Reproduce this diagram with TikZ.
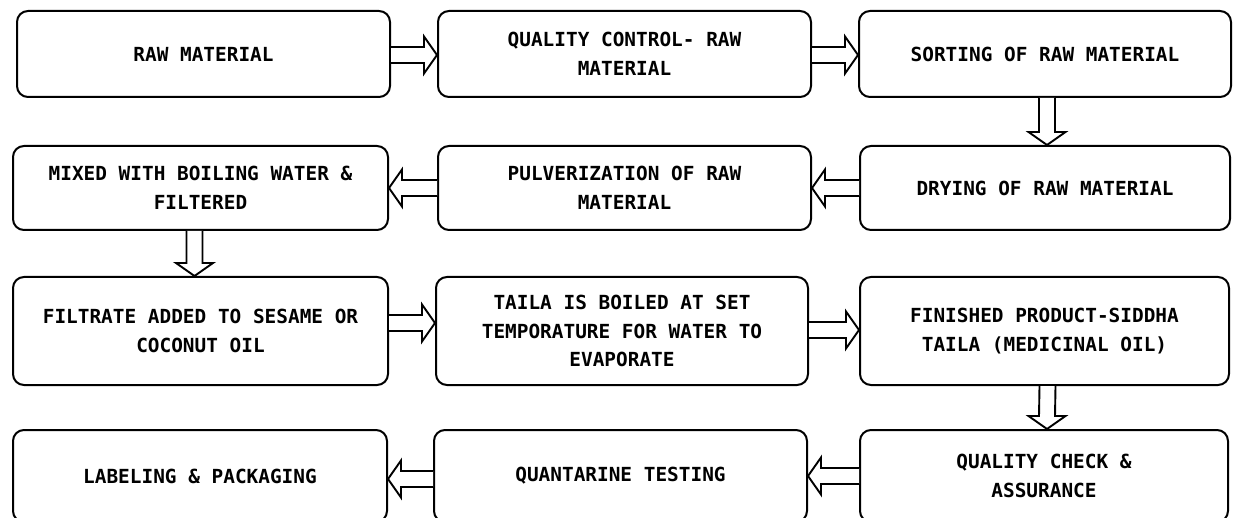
\documentclass[tikz,border=0pt]{standalone}
\usepackage{fontspec}
\newfontfamily\boxfont{DejaVu Sans Mono}
\usetikzlibrary{calc}
\tikzset{
  stepbox/.style={draw=black, line width=2pt, rounded corners=11pt, fill=white,
    align=center, inner sep=0pt, font=\boxfont\bfseries\fontsize{19.4}{28.5}\selectfont},
  blk/.style={draw=black, line width=1.9pt, fill=white, line join=miter}
}
\newcommand\rarr[3]{%
\draw[blk] ($(#1.east)+(0,#3+8)$) -- ($(#2.west)+(-13,#3+8)$) -- ($(#2.west)+(-13,#3+18.5)$) -- ($(#2.west)+(0,#3)$) -- ($(#2.west)+(-13,#3-18.5)$) -- ($(#2.west)+(-13,#3-8)$) -- ($(#1.east)+(0,#3-8)$);}
\newcommand\larr[3]{%
\draw[blk] ($(#1.west)+(0,#3+8)$) -- ($(#2.east)+(13,#3+8)$) -- ($(#2.east)+(13,#3+18.5)$) -- ($(#2.east)+(0,#3)$) -- ($(#2.east)+(13,#3-18.5)$) -- ($(#2.east)+(13,#3-8)$) -- ($(#1.west)+(0,#3-8)$);}
\newcommand\darr[3]{%
\draw[blk] ($(#1.south)+(#3-8,0)$) -- ($(#2.north)+(#3-8,13)$) -- ($(#2.north)+(#3-18.5,13)$) -- ($(#2.north)+(#3,0)$) -- ($(#2.north)+(#3+18.5,13)$) -- ($(#2.north)+(#3+8,13)$) -- ($(#1.south)+(#3+8,0)$);}
\begin{document}
\begin{tikzpicture}[x=1pt,y=1pt]
\useasboundingbox (0,0) rectangle (1233,-518);
\clip (0,0) rectangle (1233,-518);
% row 1
\node[stepbox, minimum width=373pt, minimum height=86pt] (a1) at (203.5,-54) {RAW MATERIAL};
\node[stepbox, minimum width=373pt, minimum height=86pt] (a2) at (624.5,-54) {QUALITY CONTROL- RAW\\MATERIAL};
\node[stepbox, minimum width=372pt, minimum height=86pt] (a3) at (1045,-54) {SORTING OF RAW MATERIAL};
% row 2
\node[stepbox, minimum width=375pt, minimum height=84pt] (b1) at (200.5,-188) {MIXED WITH BOILING WATER \&\\FILTERED};
\node[stepbox, minimum width=373pt, minimum height=84pt] (b2) at (624.5,-188) {PULVERIZATION OF RAW\\MATERIAL};
\node[stepbox, minimum width=370pt, minimum height=84pt] (b3) at (1045,-188) {DRYING OF RAW MATERIAL};
% row 3
\node[stepbox, minimum width=375pt, minimum height=108pt] (c1) at (200.5,-331) {FILTRATE ADDED TO SESAME OR\\COCONUT OIL};
\node[stepbox, minimum width=372pt, minimum height=108pt] (c2) at (622,-331) {TAILA IS BOILED AT SET\\TEMPORATURE FOR WATER TO\\EVAPORATE};
\node[stepbox, minimum width=369pt, minimum height=108pt] (c3) at (1044.5,-331) {FINISHED PRODUCT-SIDDHA\\TAILA (MEDICINAL OIL)};
% row 4
\node[stepbox, minimum width=374pt, minimum height=92pt] (d1) at (200,-476) {LABELING \& PACKAGING};
\node[stepbox, minimum width=373pt, minimum height=92pt] (d2) at (620.5,-476) {QUANTARINE TESTING};
\node[stepbox, minimum width=368pt, minimum height=92pt] (d3) at (1044,-476) {QUALITY CHECK \&\\ASSURANCE};
% arrows
\rarr{a1}{a2}{-1}
\rarr{a2}{a3}{-1}
\darr{a3}{b3}{2}
\larr{b3}{b2}{0}
\larr{b2}{b1}{0}
\darr{b1}{c1}{-6}
\rarr{c1}{c2}{8}
\rarr{c2}{c3}{1}
\darr{c3}{d3}{3}
\larr{d3}{d2}{0}
\larr{d2}{d1}{-3}
\end{tikzpicture}
\end{document}
